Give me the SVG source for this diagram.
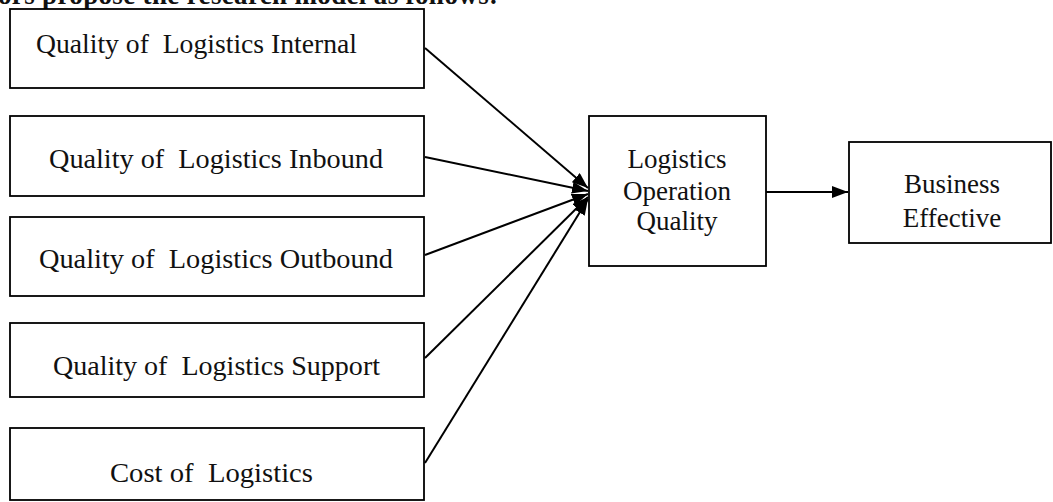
<svg xmlns="http://www.w3.org/2000/svg" width="1053" height="502" viewBox="0 0 1053 502" xml:space="preserve">
<style>
.box{fill:#fff;stroke:#000;stroke-width:1.8}
.t{font-family:"Liberation Serif",serif;font-size:27px;fill:#111;white-space:pre}
.c{text-anchor:middle}
.ln{stroke:#000;stroke-width:2;fill:none}
</style>
<defs>
<marker id="ah2" viewBox="0 0 16 12" refX="16" refY="6" markerWidth="16" markerHeight="12" markerUnits="userSpaceOnUse" orient="auto">
<path d="M0,0 L16,6 L0,12 z" fill="#000"/>
</marker>
</defs>
<text x="-2" y="4" style="font-family:'Liberation Serif',serif;font-size:27px;font-weight:bold" fill="#111" textLength="500">ors propose the research model as follows:</text>
<g id="n1"><rect class="box" x="10" y="9" width="414" height="79"/><text class="t" x="36" y="53" textLength="321" lengthAdjust="spacingAndGlyphs">Quality of  Logistics Internal</text></g>
<g id="n2"><rect class="box" x="10" y="116" width="414" height="80"/><text class="t" x="49" y="168" textLength="334" lengthAdjust="spacingAndGlyphs">Quality of  Logistics Inbound</text></g>
<g id="n3"><rect class="box" x="10" y="217" width="414" height="79"/><text class="t" x="39" y="268" textLength="354" lengthAdjust="spacingAndGlyphs">Quality of  Logistics Outbound</text></g>
<g id="n4"><rect class="box" x="10" y="323" width="414" height="74"/><text class="t" x="53" y="375" textLength="327" lengthAdjust="spacingAndGlyphs">Quality of  Logistics Support</text></g>
<g id="n5"><rect class="box" x="10" y="428" width="414" height="72"/><text class="t" x="110" y="482" textLength="203" lengthAdjust="spacingAndGlyphs">Cost of  Logistics</text></g>
<g id="n6"><rect class="box" x="589" y="116" width="177" height="150"/>
<text class="t c" x="677" y="168">Logistics</text><text class="t c" x="677" y="200">Operation</text><text class="t c" x="677" y="230">Quality</text></g>
<g id="n7"><rect class="box" x="849" y="142" width="202" height="101"/>
<text class="t c" x="952" y="193">Business</text><text class="t c" x="952" y="227">Effective</text></g>
<g id="connectors">
<line class="ln" x1="425" y1="48" x2="588" y2="188" marker-end="url(#ah2)"/>
<line class="ln" x1="425" y1="157" x2="588" y2="191" marker-end="url(#ah2)"/>
<line class="ln" x1="425" y1="255" x2="588" y2="194" marker-end="url(#ah2)"/>
<line class="ln" x1="425" y1="358" x2="588" y2="197" marker-end="url(#ah2)"/>
<line class="ln" x1="425" y1="463" x2="588" y2="199" marker-end="url(#ah2)"/>
<line class="ln" x1="766" y1="192" x2="848" y2="192" marker-end="url(#ah2)"/>
</g>
</svg>
